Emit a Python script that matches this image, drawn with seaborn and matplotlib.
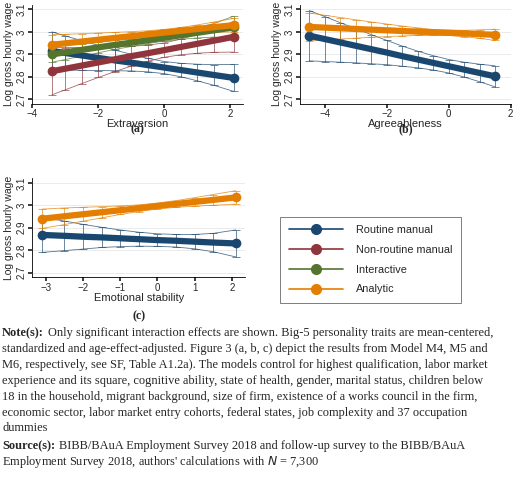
import numpy as np
import pandas as pd
import matplotlib
matplotlib.use("Agg")
import matplotlib.pyplot as plt
import seaborn as sns
from matplotlib.lines import Line2D

sns.set_theme(style="white")
plt.rcParams['font.family'] = ['Liberation Sans', 'DejaVu Sans']

# panel (a) Extraversion
x_a = [-3.4, -3, -2.5, -2, -1.5, -1, -0.5, 0, 0.5, 1, 1.5, 2.1]
a_routine = [2.915, 2.906, 2.895, 2.884, 2.873, 2.863, 2.852, 2.841, 2.830, 2.819, 2.808, 2.795]
a_routine_ci = [.085, .076, .066, .056, .046, .037, .030, .027, .030, .037, .046, .060]
a_nonroutine = [2.825, 2.836, 2.850, 2.864, 2.878, 2.892, 2.905, 2.919, 2.933, 2.947, 2.961, 2.978]
a_nonroutine_ci = [.105, .094, .080, .067, .055, .044, .036, .032, .035, .042, .052, .068]
a_interactive = [2.900, 2.909, 2.920, 2.931, 2.942, 2.952, 2.963, 2.974, 2.985, 2.996, 3.007, 3.020]
a_interactive_ci = [.035, .032, .028, .024, .020, .017, .015, .015, .018, .023, .030, .050]
a_analytic = [2.943, 2.949, 2.957, 2.965, 2.973, 2.981, 2.989, 2.997, 3.005, 3.013, 3.021, 3.030]
a_analytic_ci = [.045, .040, .035, .030, .025, .020, .016, .014, .015, .018, .023, .030]

# panel (b) Agreeableness
x_b = [-4.5, -4, -3.5, -3, -2.5, -2, -1.5, -1, -0.5, 0, 0.5, 1, 1.5]
b_routine = [2.983, 2.968, 2.953, 2.938, 2.923, 2.908, 2.892, 2.877, 2.862, 2.847, 2.832, 2.817, 2.802]
b_routine_ci = [.112, .100, .088, .076, .065, .054, .045, .037, .032, .030, .033, .039, .047]
b_analytic = [3.022, 3.019, 3.016, 3.013, 3.010, 3.007, 3.004, 3.001, 2.998, 2.996, 2.993, 2.990, 2.987]
b_analytic_ci = [.062, .055, .048, .041, .034, .028, .022, .017, .013, .012, .014, .019, .025]

# panel (c) Emotional stability
x_c = [-3.1, -2.5, -2, -1.5, -1, -0.5, 0, 0.5, 1, 1.5, 2.1]
c_routine = [2.868, 2.864, 2.860, 2.857, 2.853, 2.849, 2.845, 2.842, 2.838, 2.834, 2.830]
c_routine_ci = [.078, .066, .055, .045, .037, .031, .028, .028, .032, .041, .060]
c_analytic = [2.940, 2.951, 2.960, 2.969, 2.978, 2.987, 2.997, 3.006, 3.015, 3.024, 3.035]
c_analytic_ci = [.043, .037, .031, .025, .019, .015, .013, .015, .019, .024, .030]

groups = ["Routine manual", "Non-routine manual", "Interactive", "Analytic"]
colors = {"Routine manual": "#1a476f", "Non-routine manual": "#90353b",
          "Interactive": "#55752f", "Analytic": "#e37e00"}

W, H = 520, 494
fig = plt.figure(figsize=(W / 100, H / 100), dpi=100)


def panel(rect, x, series, xlabel, tag, xticks, tag_y):
    ax = fig.add_axes(rect)
    for name, y, ci in series:
        c = colors[name]
        y = np.array(y); ci = np.array(ci)
        ax.errorbar(x, y, yerr=ci, fmt="none", ecolor=c, elinewidth=0.6,
                    capsize=3, capthick=0.6, alpha=0.75, zorder=2)
        ax.plot(x, y - ci, color=c, lw=0.6, alpha=0.75)
        ax.plot(x, y + ci, color=c, lw=0.6, alpha=0.75)
        df = pd.DataFrame({"x": x, "y": y})
        sns.lineplot(data=df, x="x", y="y", ax=ax, color=c, lw=4.5,
                     marker="o", markersize=7, markeredgewidth=0,
                     markevery=[0, len(x) - 1], zorder=3)
    ax.set_ylim(2.68, 3.12)
    ax.set_yticks([2.7, 2.8, 2.9, 3.0, 3.1])
    ax.set_yticklabels(["2.7", "2.8", "2.9", "3", "3.1"], rotation=90, va="center")
    ax.set_xticks(xticks)
    ax.set_xticklabels([str(t).replace("-", "\u2212") for t in xticks])
    ax.grid(axis="y", color="#e8e8e8", lw=0.6)
    ax.tick_params(labelsize=7, length=3, left=True, bottom=True, pad=1)
    for s in ["top", "right"]:
        ax.spines[s].set_visible(False)
    for s in ["left", "bottom"]:
        ax.spines[s].set_color("black"); ax.spines[s].set_linewidth(0.6)
    ax.set_xlabel(xlabel, fontsize=8, labelpad=0)
    ax.set_ylabel("Log gross hourly wage", fontsize=7.5, labelpad=2)
    fig.text(rect[0] + rect[2] / 2, 1 - tag_y / H, tag, ha="center", va="center",
             fontsize=8.5, fontweight="bold", family="Liberation Serif")
    return ax


panel([0.062, 0.79, 0.405, 0.2], x_a,
      [("Routine manual", a_routine, a_routine_ci),
       ("Non-routine manual", a_nonroutine, a_nonroutine_ci),
       ("Interactive", a_interactive, a_interactive_ci),
       ("Analytic", a_analytic, a_analytic_ci)],
      "Extraversion", "(a)", [-4, -2, 0, 2], 129)
panel([0.577, 0.79, 0.405, 0.2], x_b,
      [("Routine manual", b_routine, b_routine_ci),
       ("Analytic", b_analytic, b_analytic_ci)],
      "Agreeableness", "(b)", [-4, -2, 0, 2], 129)
panel([0.062, 0.439, 0.41, 0.2], x_c,
      [("Routine manual", c_routine, c_routine_ci),
       ("Analytic", c_analytic, c_analytic_ci)],
      "Emotional stability", "(c)", [-3, -2, -1, 0, 1, 2], 316)

handles = [Line2D([0], [0], color=colors[g], lw=1.2, marker="o", markersize=7) for g in groups]
leg = fig.legend(handles, groups, loc="center", bbox_to_anchor=(0.713, 0.474),
                 fontsize=7.8, frameon=True, fancybox=False, edgecolor="#444444",
                 handlelength=5, labelspacing=0.9, borderpad=0.8, handletextpad=1.2)
leg.get_frame().set_linewidth(0.6)

serif = "Liberation Serif"
fs = 8.9
lines = [
    "Only significant interaction effects are shown. Big-5 personality traits are mean-centered,",
    "standardized and age-effect-adjusted. Figure 3 (a, b, c) depict the results from Model M4, M5 and",
    "M6, respectively, see SF, Table A1.2a). The models control for highest qualification, labor market",
    "experience and its square, cognitive ability, state of health, gender, marital status, children below",
    "18 in the household, migrant background, size of firm, existence of a works council in the firm,",
    "economic sector, labor market entry cohorts, federal states, job complexity and 37 occupation",
    "dummies",
]
y0 = 1 - 333 / H
step = 15.9 / H
renderer = fig.canvas.get_renderer()


def label_then(y, bold, rest):
    t = fig.text(0.004, y, bold, fontsize=fs, family=serif, fontweight="bold", va="center")
    bb = t.get_window_extent(renderer)
    fig.text((bb.x1 + 4) / W, y, rest, fontsize=fs, family=serif, va="center")


label_then(y0, "Note(s):", lines[0])
for i, t in enumerate(lines[1:], start=1):
    fig.text(0.004, y0 - i * step, t, fontsize=fs, family=serif, va="center")
ys = y0 - 7 * step - 1.5 / H
label_then(ys, "Source(s):", "BIBB/BAuA Employment Survey 2018 and follow-up survey to the BIBB/BAuA")
fig.text(0.004, ys - step, "Employment Survey 2018, authors' calculations with $\\it{N}$ = 7,300",
         fontsize=fs, family=serif, va="center")

fig.savefig("out.png", dpi=100)
